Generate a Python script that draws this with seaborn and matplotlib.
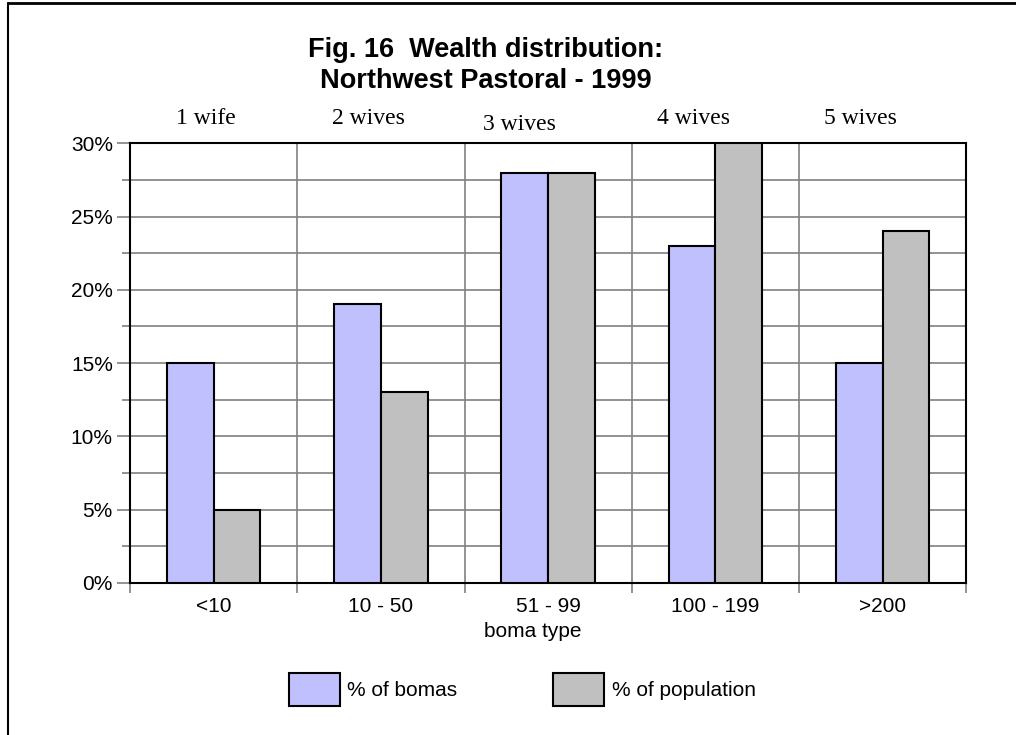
import pandas as pd
import matplotlib.pyplot as plt
import matplotlib.ticker as mticker
from matplotlib.lines import Line2D
import seaborn as sns

# chart values
boma_types = ['<10', '10 - 50', '51 - 99', '100 - 199', '>200']
wives = ['1 wife', '2 wives', '3 wives', '4 wives', '5 wives']
pct_bomas = [15, 19, 28, 23, 15]
pct_population = [5, 13, 28, 30, 24]
series = ['% of bomas', '% of population']
colors = ['#C0C0FF', '#C0C0C0']

data = pd.DataFrame({
    'boma type': boma_types * 2,
    'Series': [series[0]] * 5 + [series[1]] * 5,
    'Percent': pct_bomas + pct_population,
})

sns.set_style('white')
plt.rcParams['font.family'] = ['Liberation Sans', 'DejaVu Sans']
plt.rcParams['text.color'] = 'black'
plt.rcParams['axes.labelcolor'] = 'black'

fig = plt.figure(figsize=(10.16, 7.35), dpi=100)
ax = fig.add_axes([0.128, 0.207, 0.823, 0.598])

sns.barplot(data=data, x='boma type', y='Percent', hue='Series',
            order=boma_types, hue_order=series, palette=colors, saturation=1,
            width=0.56, edgecolor='black', linewidth=1.5, zorder=3, ax=ax)

ax.set_xlim(-0.5, 4.5)
ax.set_ylim(0, 30)

# y axis: labels every 5%, gridlines every 2.5%
ax.yaxis.set_major_locator(mticker.MultipleLocator(5))
ax.yaxis.set_minor_locator(mticker.MultipleLocator(2.5))
ax.yaxis.set_major_formatter(mticker.FuncFormatter(lambda v, p: f'{v:.0f}%'))
ax.grid(True, axis='y', which='both', color='#808080', linewidth=1.2, zorder=0)
ax.tick_params(axis='y', which='major', left=True, length=9.4, width=1.2,
               color='#808080', labelcolor='black', labelsize=15, pad=3)
ax.tick_params(axis='y', which='minor', left=True, length=6, width=1.2,
               color='#808080')

# x axis: category boundaries as vertical gridlines
ax.set_xticks(range(len(boma_types)))
ax.set_xticks([i - 0.5 for i in range(len(boma_types) + 1)], minor=True)
ax.tick_params(axis='x', which='major', bottom=False, labelcolor='black',
               labelsize=15, pad=7)
ax.tick_params(axis='x', which='minor', bottom=True, length=7, width=1.2,
               color='#808080')
for b in [0.5, 1.5, 2.5, 3.5]:
    ax.axvline(b, color='#808080', linewidth=1.2, zorder=0)

for side in ['left', 'right', 'top', 'bottom']:
    ax.spines[side].set_visible(True)
    ax.spines[side].set_color('black')
    ax.spines[side].set_linewidth(1.5)

ax.set_xlabel('boma type', fontsize=15)
ax.xaxis.set_label_coords(0.482, -0.089)
ax.set_ylabel('')

# number of wives above each group
wife_x = [-0.045, 0.925, 1.83, 2.87, 3.87]
wife_y = [1.043, 1.043, 1.030, 1.045, 1.043]
for x, y, w in zip(wife_x, wife_y, wives):
    ax.text(x, y, w, transform=ax.get_xaxis_transform(), ha='center',
            va='baseline', fontsize=17, family=['Liberation Serif', 'DejaVu Serif'])

fig.text(0.478, 0.923, 'Fig. 16  Wealth distribution:', ha='center', va='baseline',
         fontsize=19.5, fontweight='bold')
fig.text(0.478, 0.880, 'Northwest Pastoral - 1999', ha='center', va='baseline',
         fontsize=19.5, fontweight='bold')

handles, labels = ax.get_legend_handles_labels()
ax.legend(handles, labels, loc='center', bbox_to_anchor=(0.514, 0.062),
          bbox_transform=fig.transFigure, ncol=2, frameon=False, fontsize=15,
          handlelength=2.45, handleheight=2.1, handletextpad=0.35,
          columnspacing=4.6)

# frame lines of the original figure
fig.add_artist(Line2D([0.008, 1.0], [0.996, 0.996], color='black', linewidth=2))
fig.add_artist(Line2D([0.008, 0.008], [0.0, 0.996], color='black', linewidth=1.5))

fig.savefig('out.png', dpi=100)
